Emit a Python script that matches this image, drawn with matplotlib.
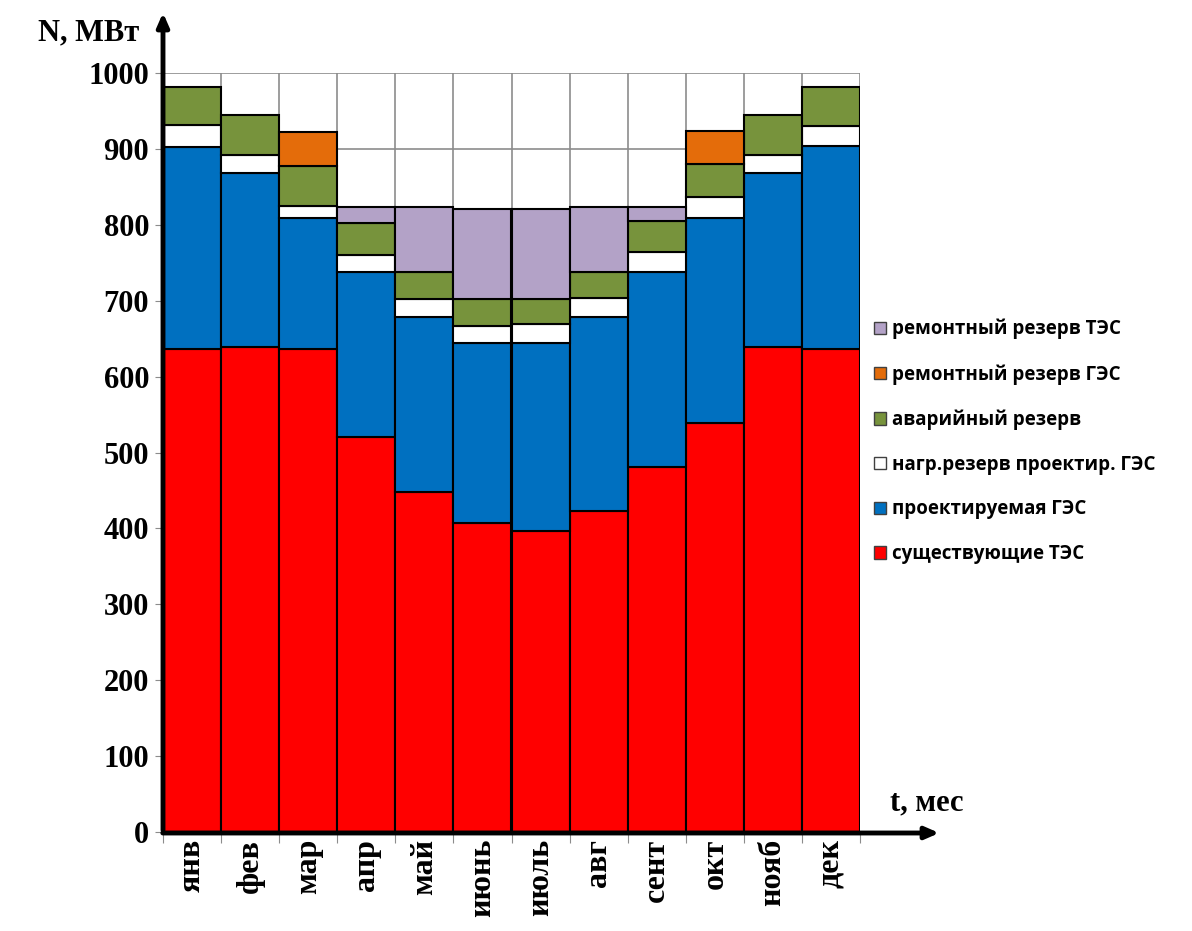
import matplotlib
matplotlib.use("Agg")
import matplotlib.pyplot as plt
import numpy as np
from matplotlib.patches import Patch

months = ["янв", "фев", "мар", "апр", "май", "июнь", "июль", "авг", "сент", "окт", "нояб", "дек"]

# Segment heights, MW (stacked bottom to top)
existing_tpp = [636, 639, 636, 520, 448, 407, 397, 423, 481, 539, 639, 636]
planned_hpp = [266, 229, 173, 218, 231, 237, 247, 256, 257, 270, 229, 268]
load_reserve_hpp = [29, 24, 16, 22, 23, 23, 25, 25, 26, 27, 24, 26]
emergency_reserve = [50, 53, 53, 42, 36, 35, 33, 34, 41, 44, 53, 51]
repair_reserve_hpp = [0, 0, 44, 0, 0, 0, 0, 0, 0, 44, 0, 0]
repair_reserve_tpp = [0, 0, 0, 21, 85, 119, 119, 85, 18, 0, 0, 0]

series = [
    (existing_tpp, "#FF0000", "существующие ТЭС"),
    (planned_hpp, "#0070C0", "проектируемая ГЭС"),
    (load_reserve_hpp, "#FFFFFF", "нагр.резерв проектир. ГЭС"),
    (emergency_reserve, "#77933C", "аварийный резерв"),
    (repair_reserve_hpp, "#E46C0A", "ремонтный резерв ГЭС"),
    (repair_reserve_tpp, "#B3A2C7", "ремонтный резерв ТЭС"),
]

serif = ["Liberation Serif", "DejaVu Serif"]
sans = ["Open Sans", "DejaVu Sans"]

fig = plt.figure(figsize=(11.92, 9.31), dpi=100)
ax = fig.add_axes([163 / 1192, 1 - 832 / 931, (860 - 163) / 1192, (832 - 73) / 931])

x = np.arange(len(months))
ax.set_xlim(-0.5, len(months) - 0.5)
ax.set_ylim(0, 1000)

# grid: horizontal every 100, vertical at month boundaries
for yv in range(100, 1001, 100):
    ax.plot([-0.5, len(months) - 0.5], [yv, yv], color="#8C8C8C", lw=1.2, zorder=0)
for b in np.arange(-0.5, len(months), 1.0):
    ax.plot([b, b], [0, 1000], color="#8C8C8C", lw=1.2, zorder=0)

bottom = np.zeros(len(months))
for vals, color, label in series:
    v = np.array(vals, dtype=float)
    mask = v > 0
    ax.bar(x[mask], v[mask], bottom=bottom[mask], width=1.0, color=color,
           edgecolor="black", linewidth=1.5, zorder=2)
    bottom += v

for s in ax.spines.values():
    s.set_visible(False)

ax.set_yticks(range(0, 1001, 100))
ax.set_yticklabels([str(v) for v in range(0, 1001, 100)], fontfamily=serif,
                   fontweight="bold", fontsize=22)
ax.tick_params(axis="y", length=6, color="#8C8C8C", pad=4)

ax.set_xticks(np.arange(-0.5, len(months), 1.0), minor=False)
ax.set_xticklabels([""] * (len(months) + 1))
ax.tick_params(axis="x", length=8, color="#8C8C8C")
ax.set_xticks(x, minor=True)
ax.set_xticklabels(months, minor=True, rotation=90, fontfamily=serif,
                   fontweight="bold", fontsize=23, va="top")
ax.tick_params(axis="x", which="minor", length=0, pad=5)

# axis arrows
ax.annotate("", xy=(163 / 1192, 1 - 10 / 931), xytext=(163 / 1192, 1 - 833 / 931),
            xycoords="figure fraction", textcoords="figure fraction",
            arrowprops=dict(arrowstyle="-|>,head_length=0.8,head_width=0.35",
                            color="black", lw=3.5))
ax.annotate("", xy=(942 / 1192, 1 - 833 / 931), xytext=(160 / 1192, 1 - 833 / 931),
            xycoords="figure fraction", textcoords="figure fraction",
            arrowprops=dict(arrowstyle="-|>,head_length=0.8,head_width=0.35",
                            color="black", lw=3.5))

fig.text(38 / 1192, 1 - 33 / 931, "N, МВт", fontfamily=serif, fontweight="bold",
         fontsize=22, va="center", ha="left")
fig.text(890 / 1192, 1 - 803 / 931, "t, мес", fontfamily=serif, fontweight="bold",
         fontsize=22, va="center", ha="left")

handles = [Patch(facecolor=c, edgecolor="#404040", linewidth=1.0, label=l)
           for _, c, l in series][::-1]
leg = fig.legend(handles=handles, loc="upper left",
                 bbox_to_anchor=(857 / 1192, 1 - 302 / 931), frameon=False,
                 prop=dict(family=sans, weight="bold", size=13.5),
                 handlelength=0.65, handleheight=0.65, handletextpad=0.3,
                 labelspacing=1.32)

fig.savefig("out.png", dpi=100, facecolor="white")
